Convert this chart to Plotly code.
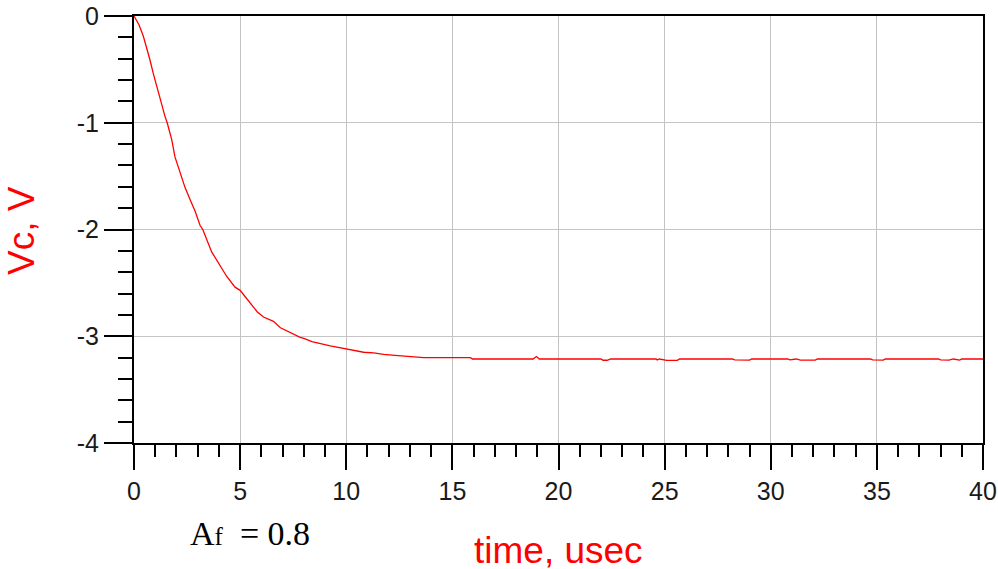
import plotly.graph_objects as go

# ---- data ----
time_us = [0, 0.24, 0.44, 0.6, 0.75, 0.91, 1.07, 1.26, 1.46, 1.57, 1.78, 1.93,
           2.17, 2.41, 2.64, 2.88, 3.11, 3.24, 3.66, 3.98, 4.37, 4.76, 5.0,
           5.24, 5.5, 5.8, 6.1, 6.4, 6.57, 6.9, 7.3, 7.83, 8.0, 8.38, 9.25,
           10.03, 10.82, 11.29, 11.76, 12.3, 12.86, 13.65, 14.5, 15.85, 15.95,
           16.5, 18.8, 18.96, 19.1, 20.0, 22.0, 22.1, 22.3, 22.45, 24.6, 24.65,
           24.75, 25.1, 25.3, 25.6, 25.7, 28.2, 28.3, 28.5, 29.0, 29.1, 30.8,
           30.9, 31.2, 31.4, 31.6, 32.1, 32.2, 34.7, 34.8, 35.0, 35.3, 35.4,
           37.9, 38.0, 38.4, 38.6, 38.9, 39.0, 40.0]
vc_volts = [0, -0.084, -0.19, -0.30, -0.41, -0.54, -0.66, -0.80, -0.94, -1.005,
            -1.16, -1.32, -1.47, -1.61, -1.72, -1.83, -1.96, -2.0, -2.21, -2.32,
            -2.44, -2.54, -2.57, -2.63, -2.70, -2.77, -2.82, -2.85, -2.86, -2.92,
            -2.96, -3.01, -3.02, -3.05, -3.09, -3.12, -3.15, -3.155, -3.17,
            -3.18, -3.19, -3.20, -3.20, -3.20, -3.213, -3.213, -3.213, -3.19,
            -3.213, -3.213, -3.213, -3.225, -3.225, -3.213, -3.213, -3.222,
            -3.213, -3.226, -3.226, -3.226, -3.213, -3.213, -3.222, -3.224,
            -3.224, -3.213, -3.213, -3.222, -3.213, -3.224, -3.224, -3.224,
            -3.213, -3.213, -3.222, -3.224, -3.224, -3.213, -3.213, -3.222,
            -3.224, -3.213, -3.224, -3.213, -3.213]

x_tick_vals = [0, 5, 10, 15, 20, 25, 30, 35, 40]
x_tick_text = ["0", "5", "10", "15", "20", "25", "30", "35", "40"]
y_tick_vals = [0, -1, -2, -3, -4]
y_tick_text = ["0", "-1", "-2", "-3", "-4"]

x_title = "time, usec"
y_title = "Vc, V"
note_text = "A<span style='font-size:25px'>f</span>&nbsp; = 0.8"

RED = "#ff0000"
TICKFONT = dict(family="Liberation Sans, Arial, sans-serif", size=25, color="#1a1a1a")
TITLEFONT = dict(family="Liberation Sans, Arial, sans-serif", size=37, color=RED)

fig = go.Figure()
fig.add_trace(go.Scatter(x=time_us, y=vc_volts, mode="lines",
                         line=dict(color=RED, width=1.3), showlegend=False))

axis_common = dict(
    showline=True, linecolor="black", linewidth=2, mirror=True,
    ticks="outside", tickcolor="black", tickwidth=2,
    showgrid=True, gridcolor="#c4c4c4", gridwidth=1.3,
    zeroline=False, tickfont=TICKFONT, fixedrange=True, automargin=False,
)

fig.update_xaxes(range=[0, 40], tickmode="array", tickvals=x_tick_vals,
                 ticktext=x_tick_text, ticklen=25,
                 minor=dict(dtick=1, ticks="outside", ticklen=12, tickwidth=2,
                            tickcolor="black", showgrid=False),
                 **axis_common)
fig.update_yaxes(range=[-4, 0], tickmode="array", tickvals=y_tick_vals,
                 ticktext=y_tick_text, ticklen=28,
                 minor=dict(dtick=0.2, ticks="outside", ticklen=14, tickwidth=2,
                            tickcolor="black", showgrid=False),
                 **axis_common)

fig.add_annotation(text=x_title, xref="paper", yref="paper", x=0.5, y=-0.251,
                   xanchor="center", yanchor="middle", showarrow=False,
                   font=TITLEFONT)
fig.add_annotation(text=y_title, xref="paper", yref="paper", x=-0.1333, y=0.4986,
                   xanchor="center", yanchor="middle", textangle=-90,
                   showarrow=False, font=TITLEFONT)
fig.add_annotation(text=note_text, xref="paper", yref="paper", x=0.0636, y=-0.212,
                   xanchor="left", yanchor="middle", showarrow=False,
                   font=dict(family="Liberation Serif, Times New Roman, serif",
                             size=34, color="black"))

fig.update_layout(width=998, height=569, autosize=False,
                  margin=dict(l=134, r=15, t=16, b=126),
                  plot_bgcolor="white", paper_bgcolor="white")

fig.write_html("out.html", config={"displayModeBar": False},
               post_script="document.body.style.margin='0';"
                           "document.body.style.overflow='hidden';")
